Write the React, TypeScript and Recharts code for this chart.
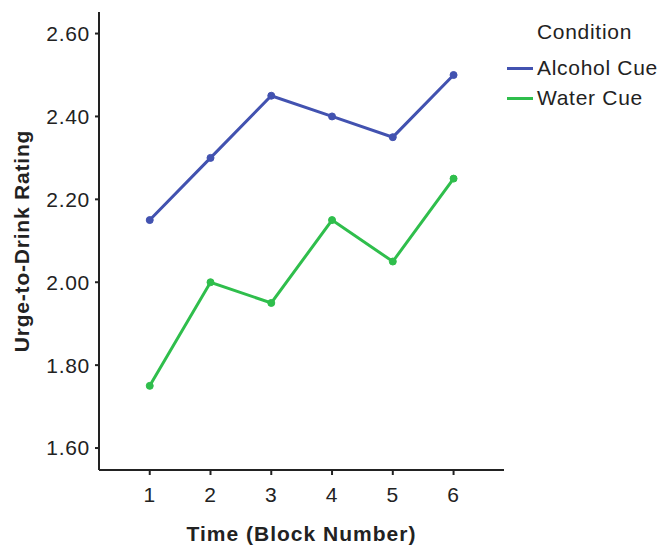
import React from "react";
import { LineChart, Line, XAxis, YAxis } from "recharts";

const blocks = [1, 2, 3, 4, 5, 6];
const alcoholCue = [2.15, 2.3, 2.45, 2.4, 2.35, 2.5];
const waterCue = [1.75, 2.0, 1.95, 2.15, 2.05, 2.25];
const yTicks = [1.6, 1.8, 2.0, 2.2, 2.4, 2.6];
const seriesNames = ["Alcohol Cue", "Water Cue"];
const seriesColors = ["#4252b0", "#2fbe4c"];

const data = blocks.map((b, i) => ({ block: b, alcohol: alcoholCue[i], water: waterCue[i] }));

const FONT = "Liberation Sans, Arial, sans-serif";
const TXT = "#222";
const FS = 21;
const LS = 0.7;

const LegendBox = () => (
  <div style={{ position: "absolute", left: 507, top: 17, width: 163, fontFamily: FONT, color: TXT, fontSize: FS, letterSpacing: LS }}>
    <div style={{ marginLeft: 30, height: 30, lineHeight: "30px", marginBottom: 6 }}>Condition</div>
    {seriesNames.map((n, i) => (
      <div key={n} style={{ display: "flex", alignItems: "center", height: 30, whiteSpace: "nowrap" }}>
        <div style={{ width: 26, height: 3, background: seriesColors[i], marginRight: 4, flex: "none" }} />
        <span>{n}</span>
      </div>
    ))}
  </div>
);

export default function App() {
  return (
    <div style={{ position: "absolute", left: 0, top: 0, width: 670, height: 546, background: "#fff" }}>
      <LineChart width={670} height={546} data={data} margin={{ top: 12, right: 166, bottom: 0, left: 0 }}>
        <XAxis
          dataKey="block"
          type="number"
          domain={[0.165, 6.83]}
          ticks={blocks}
          height={76}
          tickSize={5}
          tickMargin={12}
          stroke="#222"
          strokeWidth={2}
          tick={{ fill: TXT, fontSize: FS, fontFamily: FONT, letterSpacing: LS }}
          label={{ value: "Time (Block Number)", position: "insideBottom", offset: 5, fill: TXT, fontSize: FS, fontWeight: "bold", fontFamily: FONT, letterSpacing: 1 }}
        />
        <YAxis
          type="number"
          domain={[1.547, 2.652]}
          ticks={yTicks}
          width={99}
          tickSize={4}
          tickMargin={5}
          stroke="#222"
          strokeWidth={2}
          tickFormatter={(v: number) => v.toFixed(2)}
          tick={{ fill: TXT, fontSize: FS, fontFamily: FONT, letterSpacing: LS }}
          label={{ value: "Urge-to-Drink Rating", angle: -90, position: "insideLeft", offset: 22, fill: TXT, fontSize: FS, fontWeight: "bold", fontFamily: FONT, letterSpacing: 0.8, style: { textAnchor: "middle" } }}
        />
        <Line
          dataKey="alcohol"
          name={seriesNames[0]}
          stroke={seriesColors[0]}
          strokeWidth={3}
          dot={{ r: 3.5, fill: seriesColors[0], stroke: seriesColors[0], strokeWidth: 1 }}
          isAnimationActive={false}
        />
        <Line
          dataKey="water"
          name={seriesNames[1]}
          stroke={seriesColors[1]}
          strokeWidth={3}
          dot={{ r: 3.5, fill: seriesColors[1], stroke: seriesColors[1], strokeWidth: 1 }}
          isAnimationActive={false}
        />
      </LineChart>
      <LegendBox />
    </div>
  );
}
